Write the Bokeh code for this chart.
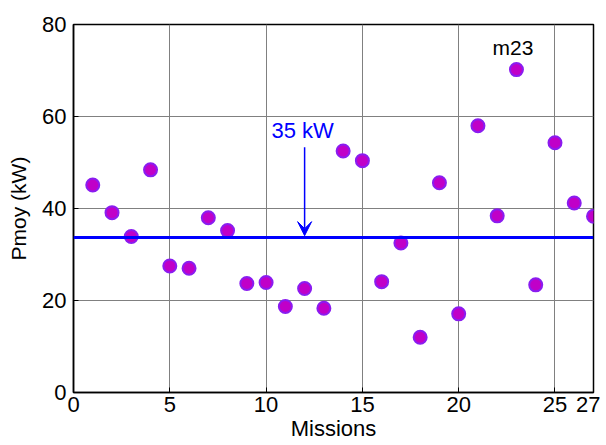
from bokeh.plotting import figure
from bokeh.models import Range1d, Span, Arrow, VeeHead, Label, FixedTicker
from bokeh.embed import file_html
from bokeh.resources import INLINE

missions = list(range(1, 28))
pmoy = [45.1, 39.1, 33.9, 48.4, 27.5, 27.0, 38.0, 35.2, 23.7, 23.9,
        18.7, 22.6, 18.3, 52.5, 50.4, 24.1, 32.5, 12.0, 45.6, 17.1,
        58.0, 38.4, 70.2, 23.4, 54.3, 41.2, 38.3]
threshold = 33.7
x_ticks = [0, 5, 10, 15, 20, 25, 27]
y_ticks = [0, 20, 40, 60, 80]
arrow_label = "35 kW"
arrow_x = 12
arrow_y_start = 53.3
arrow_label_y = 54.2
peak_label = "m23"
peak_label_y = 72.5

FONT = "Liberation Sans"

p = figure(width=600, height=445, output_backend="svg", toolbar_location=None,
           x_range=Range1d(0, 27), y_range=Range1d(0, 80),
           min_border_left=73, min_border_right=7, min_border_top=24, min_border_bottom=53)

p.outline_line_color = "black"
p.outline_line_width = 1.5
p.background_fill_color = "white"
p.border_fill_color = "white"

for ax in (p.xaxis[0], p.yaxis[0]):
    ax.axis_line_color = "black"
    ax.axis_line_width = 1.5
    ax.major_tick_in = 5
    ax.major_tick_out = 0
    ax.minor_tick_line_color = None
    ax.major_label_text_font = FONT
    ax.major_label_text_font_size = "22px"
    ax.major_label_text_color = "black"
    ax.axis_label_text_font = FONT
    ax.axis_label_text_font_style = "normal"
    ax.axis_label_text_color = "black"

p.xaxis.ticker = FixedTicker(ticks=x_ticks)
p.yaxis.ticker = FixedTicker(ticks=y_ticks)
p.xaxis.axis_label = "Missions"
p.yaxis.axis_label = "Pmoy (kW)"
p.xaxis.axis_label_text_font_size = "22px"
p.yaxis.axis_label_text_font_size = "21px"
p.xaxis.major_label_standoff = 4
p.yaxis.major_label_standoff = 7
p.xaxis.axis_label_standoff = 1
p.yaxis.axis_label_standoff = 9

p.grid.grid_line_color = "#808080"
p.grid.grid_line_width = 1

p.add_layout(Span(location=threshold, dimension="width", line_color="#0000ff", line_width=3))

p.add_layout(Arrow(end=VeeHead(size=14, line_color="#0000ff", fill_color="#0000ff", line_width=1),
                   x_start=arrow_x, y_start=arrow_y_start, x_end=arrow_x, y_end=threshold + 0.4,
                   line_color="#0000ff", line_width=1.5))
p.add_layout(Label(x=arrow_x - 0.1, y=arrow_label_y, text=arrow_label, text_align="center",
                   text_baseline="bottom", text_font=FONT, text_font_size="22px",
                   text_color="#0000ff"))

p.scatter(missions, pmoy, size=13, fill_color="#c000c8", line_color="#8a1cf0", line_width=2)

p.add_layout(Label(x=missions[22] - 0.18, y=peak_label_y, text=peak_label, text_align="center",
                   text_baseline="bottom", text_font=FONT, text_font_size="21px",
                   text_color="black"))

open("out.html", "w").write(file_html(p, INLINE))
